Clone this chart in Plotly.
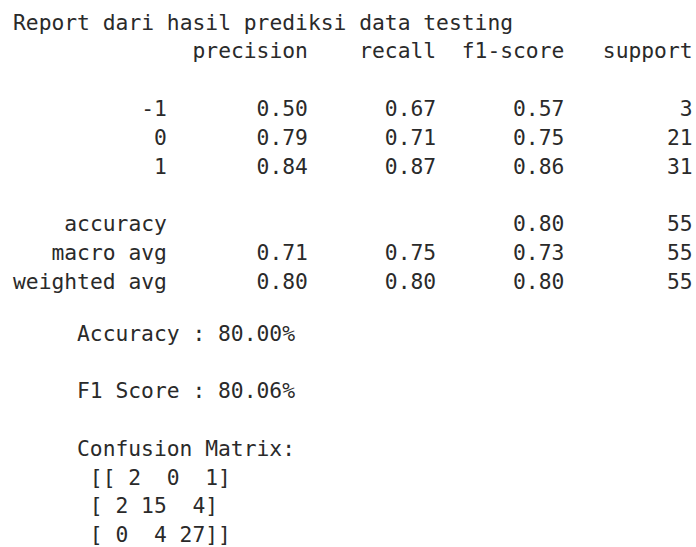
import numpy as np
import plotly.graph_objects as go

# ---- data ----
title = "Report dari hasil prediksi data testing"
class_labels = ["-1", "0", "1"]
headers = ["precision", "recall", "f1-score", "support"]
precision = [0.50, 0.79, 0.84]
recall = [0.67, 0.71, 0.87]
f1_score = [0.57, 0.75, 0.86]
support = [3, 21, 31]
accuracy = 0.80
total_support = 55
avg_labels = ["macro avg", "weighted avg"]
avg_precision = [0.71, 0.80]
avg_recall = [0.75, 0.80]
avg_f1 = [0.73, 0.80]
accuracy_pct = 80.00
f1_pct = 80.06
conf_matrix = [[2, 0, 1],
               [2, 15, 4],
               [0, 4, 27]]

# ---- build text lines (sklearn classification_report format) ----
W = 12
head_fmt = "{:>{w}s} " + " {:>9}" * 4
row_fmt = "{:>{w}s} " + " {:>9.2f}" * 3 + " {:>9}"
report = [title, head_fmt.format("", *headers, w=W), ""]
for lab, p, r, f, s in zip(class_labels, precision, recall, f1_score, support):
    report.append(row_fmt.format(lab, p, r, f, s, w=W))
report.append("")
report.append(("{:>{w}s} " + " {:>9}" * 2 + " {:>9.2f}" + " {:>9}").format(
    "accuracy", "", "", accuracy, total_support, w=W))
for lab, p, r, f in zip(avg_labels, avg_precision, avg_recall, avg_f1):
    report.append(row_fmt.format(lab, p, r, f, total_support, w=W))

block2 = ["Accuracy : {:.2f}%".format(accuracy_pct), "",
          "F1 Score : {:.2f}%".format(f1_pct), "",
          "Confusion Matrix:"]
block2 += (" " + str(np.array(conf_matrix))).split("\n")

FONT = dict(family="DejaVu Sans Mono", size=21.3, color="#2a2a2a")
LH = 28.8

fig = go.Figure()
anns = []
def add_block(lines, x0, y0):
    for i, ln in enumerate(lines):
        if not ln.strip():
            continue
        anns.append(dict(x=x0, y=y0 + i * LH, xref="x", yref="y",
                         text=ln.replace(" ", "\u00a0"), showarrow=False,
                         xanchor="left", yanchor="middle", font=FONT,
                         borderpad=0, borderwidth=0))

add_block(report, 13, 22)
add_block(block2, 77, 333)

fig.update_layout(
    width=696, height=547,
    margin=dict(l=0, r=0, t=0, b=0),
    paper_bgcolor="white", plot_bgcolor="white",
    xaxis=dict(range=[0, 696], visible=False, fixedrange=True),
    yaxis=dict(range=[547, 0], visible=False, fixedrange=True),
    annotations=anns,
    showlegend=False,
)
fig.write_html("out.html",
               config={"displayModeBar": False, "staticPlot": True},
               post_script="document.body.style.margin='0';"
                           "document.body.style.overflow='hidden';")
